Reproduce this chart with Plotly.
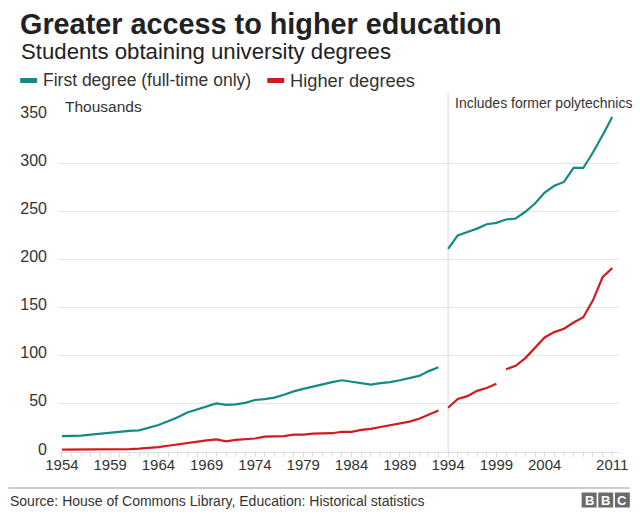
import plotly.graph_objects as go

years = list(range(1954, 2012))

first_degree = [
    16.5, 16.5, 17, 18, 19, 20.5, 21, 22, 22.5, 25,
    28, 32, 36, 41, 44, 47, 50.5, 49, 49.5, 51,
    54, 55, 56.5, 59.5, 63, 65.5, 68, 70.5, 72.5, 74.5,
    73, 71.5, 70, 71.5, 72.5, 74.5, 76.5, 79, 84, 88,
    211, 225, 228.5, 232, 236.5, 238, 241.5, 242.5, 249.5, 258,
    269.5, 276.5, 280.5, 295, 295, 311, 329, 348,
]
higher_degrees = [
    2.5, 2.5, 2.5, 2.5, 2.5, 2.5, 2.5, 3, 3.5, 4,
    5, 6.5, 8, 9.5, 11, 12, 13, 11, 12.5, 13,
    14, 16, 16, 16.5, 18, 18, 19, 19.5, 19.5, 21,
    21, 23, 24, 26, 28, 30, 31.5, 34.5, 38.5, 43,
    46, 55, 58, 63.5, 66.5, 71, 86, 89.5, 97.5, 108.5,
    119, 124.5, 128, 134.5, 140, 157.5, 181.5, 191,
]
first_breaks = [1993]
higher_breaks = [1993, 1999]

tick_years = [1954, 1959, 1964, 1969, 1974, 1979, 1984, 1989, 1994, 1999, 2004, 2011]
tick_labels = [str(y) for y in tick_years]
y_ticks = [0, 50, 100, 150, 200, 250, 300, 350]

series_names = ["First degree (full-time only)", "Higher degrees"]
TEAL = "#128a86"
RED = "#d11a22"
FONT = "Liberation Sans, Arial, sans-serif"

W, H = 640, 520
L, R, T, B = 59, 19, 115, 68
PW, PH = W - L - R, H - T - B


def px(x):
    return (x - L) / PW


def py(y):
    return (H - B - y) / PH


def segments(xs, ys, breaks):
    segs, cx, cy = [], [], []
    for x, y in zip(xs, ys):
        cx.append(x)
        cy.append(y)
        if x in breaks:
            segs.append((cx, cy))
            cx, cy = [], []
    if cx:
        segs.append((cx, cy))
    return segs


fig = go.Figure()
for vals, brks, col, name in [
    (first_degree, first_breaks, TEAL, series_names[0]),
    (higher_degrees, higher_breaks, RED, series_names[1]),
]:
    for sx, sy in segments(years, vals, brks):
        fig.add_trace(go.Scatter(
            x=sx, y=sy, mode="lines", name=name, showlegend=False,
            line=dict(color=col, width=2.2), hoverinfo="skip",
        ))

shapes = [
    # 1994 divider
    dict(type="line", xref="x", yref="paper", x0=1994, x1=1994,
         y0=0, y1=py(92), line=dict(color="#d9d9d9", width=1), layer="below"),
    # legend swatches
    dict(type="rect", xref="paper", yref="paper", x0=px(20), x1=px(37),
         y0=py(83), y1=py(78), fillcolor=TEAL, line=dict(width=0)),
    dict(type="rect", xref="paper", yref="paper", x0=px(268), x1=px(285),
         y0=py(83), y1=py(78), fillcolor=RED, line=dict(width=0)),
    # footer separator
    dict(type="line", xref="paper", yref="paper", x0=px(8), x1=px(632),
         y0=py(488), y1=py(488), line=dict(color="#bbbbbb", width=1.5)),
]
annotations = [
    dict(text="<b>Greater access to higher education</b>", x=px(18), y=py(24),
         xanchor="left", yanchor="middle", font=dict(size=28.8, color="#222222")),
    dict(text="Students obtaining university degrees", x=px(19), y=py(51),
         xanchor="left", yanchor="middle", font=dict(size=22.2, color="#222222")),
    dict(text=series_names[0], x=px(41), y=py(80),
         xanchor="left", yanchor="middle", font=dict(size=17.5, color="#333333")),
    dict(text=series_names[1], x=px(289), y=py(80),
         xanchor="left", yanchor="middle", font=dict(size=18.3, color="#333333")),
    dict(text="Thousands", x=px(63), y=py(106),
         xanchor="left", yanchor="middle", font=dict(size=15.5, color="#333333")),
    dict(text="Includes former polytechnics", x=px(454), y=py(103),
         xanchor="left", yanchor="middle", font=dict(size=14, color="#333333")),
    dict(text="Source: House of Commons Library, Education: Historical statistics",
         x=px(8), y=py(501), xanchor="left", yanchor="middle",
         font=dict(size=14, color="#333333")),
]
# BBC logo blocks
for i, letter in enumerate(["B", "B", "C"]):
    x0 = 583.5 + i * 16.7
    shapes.append(dict(type="rect", xref="paper", yref="paper",
                       x0=px(x0), x1=px(x0 + 15), y0=py(507.5), y1=py(492.5),
                       fillcolor="#6b6b6b", line=dict(width=0)))
    annotations.append(dict(text="<b>%s</b>" % letter, x=px(x0 + 7.5), y=py(500.5),
                            xanchor="center", yanchor="middle",
                            font=dict(size=13, color="white")))

for a in annotations:
    a.update(xref="paper", yref="paper", showarrow=False)

fig.update_layout(
    width=W, height=H, autosize=False,
    margin=dict(l=L, r=R, t=T, b=B, pad=0),
    paper_bgcolor="white", plot_bgcolor="white",
    font=dict(family=FONT, color="#333333"),
    shapes=shapes, annotations=annotations,
    showlegend=False, hovermode=False,
    xaxis=dict(
        range=[1953.7, 2011.7], tickvals=tick_years, ticktext=tick_labels,
        showgrid=False, zeroline=False, showline=True, linecolor="#dddddd",
        linewidth=1, ticks="outside", ticklen=4, tickcolor="#dddddd",
        tickfont=dict(size=15, color="#333333"),
        ticklabelstandoff=-5,
        minor=dict(tick0=1954, dtick=1, ticks="outside", ticklen=4,
                   tickcolor="#dddddd", showgrid=False),
    ),
    yaxis=dict(
        range=[0, 350], tickvals=y_ticks, showgrid=True, gridcolor="#e3e3e3",
        gridwidth=1, zeroline=False, showline=False, ticks="",
        tickfont=dict(size=16, color="#333333"),
        ticklabelstandoff=11, ticklabelshift=-3,
    ),
)

fig.write_html(
    "out.html",
    config={"displayModeBar": False, "staticPlot": True},
    post_script="document.body.style.margin='0';document.body.style.padding='0';",
)
